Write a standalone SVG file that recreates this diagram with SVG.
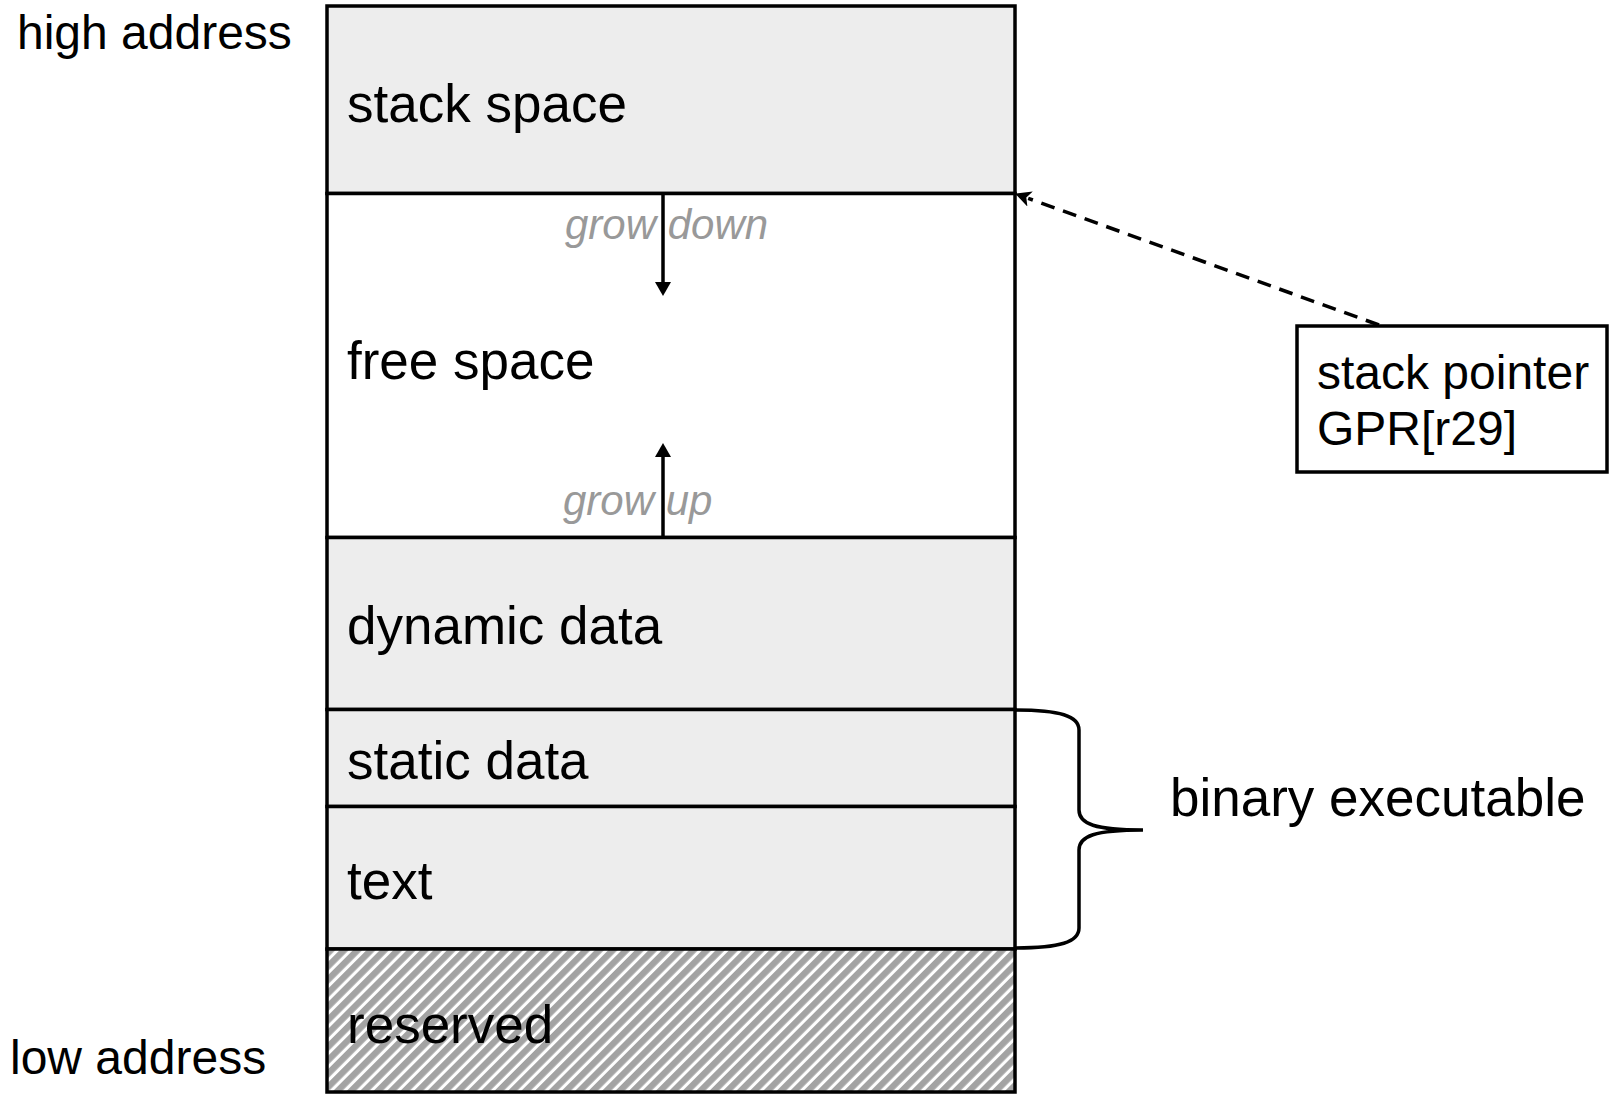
<svg xmlns="http://www.w3.org/2000/svg" width="1614" height="1095" viewBox="0 0 1614 1095">
<style>
text{font-family:"Liberation Sans",Arial,Helvetica,sans-serif;fill:#000}
.lbl{font-size:53px}
.addr{font-size:48px}
.sp{font-size:48px}
.grow{font-size:42px;font-style:italic;fill:#999999}
.seg{stroke:#000;stroke-width:3.5}
.gray{fill:#ededed}
.conn{stroke:#000;stroke-width:3.5;fill:none}
</style>
<defs>
<pattern id="hatch" patternUnits="userSpaceOnUse" width="9.5" height="9.5" patternTransform="rotate(45)">
<rect width="9.5" height="9.5" fill="#ffffff"/>
<rect width="6.4" height="9.5" fill="#a3a3a3"/>
</pattern>
<marker id="tri" viewBox="0 0 16 16" markerWidth="16" markerHeight="16" refX="2" refY="8" orient="auto" markerUnits="userSpaceOnUse">
<path d="M0,0 L14,8 L0,16 z" fill="#000"/>
</marker>
<marker id="notch" viewBox="0 0 18 16" markerWidth="18" markerHeight="16" refX="2" refY="8" orient="auto" markerUnits="userSpaceOnUse">
<path d="M0,0 L16,8 L0,16 L4,8 z" fill="#000"/>
</marker>
</defs>
<rect width="1614" height="1095" fill="#ffffff"/>

<g id="stack-space">
<rect class="seg gray" x="327" y="6" width="688" height="187.5"/>
<text class="lbl" x="347" y="121.5">stack space</text>
</g>
<g id="free-space">
<rect class="seg" fill="#ffffff" x="327" y="193.5" width="688" height="344"/>
<text class="lbl" x="347" y="379">free space</text>
</g>
<g id="dynamic-data">
<rect class="seg gray" x="327" y="537.5" width="688" height="172"/>
<text class="lbl" x="347" y="644">dynamic data</text>
</g>
<g id="static-data">
<rect class="seg gray" x="327" y="709.5" width="688" height="97"/>
<text class="lbl" x="347" y="779">static data</text>
</g>
<g id="text-seg">
<rect class="seg gray" x="327" y="806.5" width="688" height="142.5"/>
<text class="lbl" x="347" y="898.5">text</text>
</g>
<g id="reserved">
<rect class="seg" fill="url(#hatch)" x="327" y="949" width="688" height="143"/>
<text class="lbl" x="347" y="1042.5">reserved</text>
</g>

<g id="high-address"><text class="addr" x="17" y="49">high address</text></g>
<g id="low-address"><text class="addr" x="10" y="1074">low address</text></g>

<g id="grow-down"><text class="grow" x="565" y="239">grow down</text></g>
<g id="grow-up"><text class="grow" x="563" y="515">grow up</text></g>

<g id="stack-pointer">
<rect x="1297" y="326" width="310" height="146" fill="#ffffff" stroke="#000" stroke-width="3.5"/>
<text class="sp" x="1317" y="389">stack pointer</text>
<text class="sp" x="1317" y="445">GPR[r29]</text>
</g>

<g id="binary-executable">
<text class="lbl" x="1170" y="816">binary executable</text>
</g>

<g id="connectors">
<line class="conn" x1="663" y1="193.5" x2="663" y2="284" marker-end="url(#tri)"/>
<line class="conn" x1="663" y1="537" x2="663" y2="455" marker-end="url(#tri)"/>
<line class="conn" x1="1379" y1="325" x2="1028.2" y2="198.3" stroke-dasharray="14 9" marker-end="url(#notch)"/>
<path class="conn" d="M1015,710 C1060,710 1079,716 1079,730 L1079,810 C1079,824 1095,830 1143,830 C1095,830 1079,836 1079,850 L1079,928 C1079,942 1060,948 1015,948"/>
</g>
</svg>
